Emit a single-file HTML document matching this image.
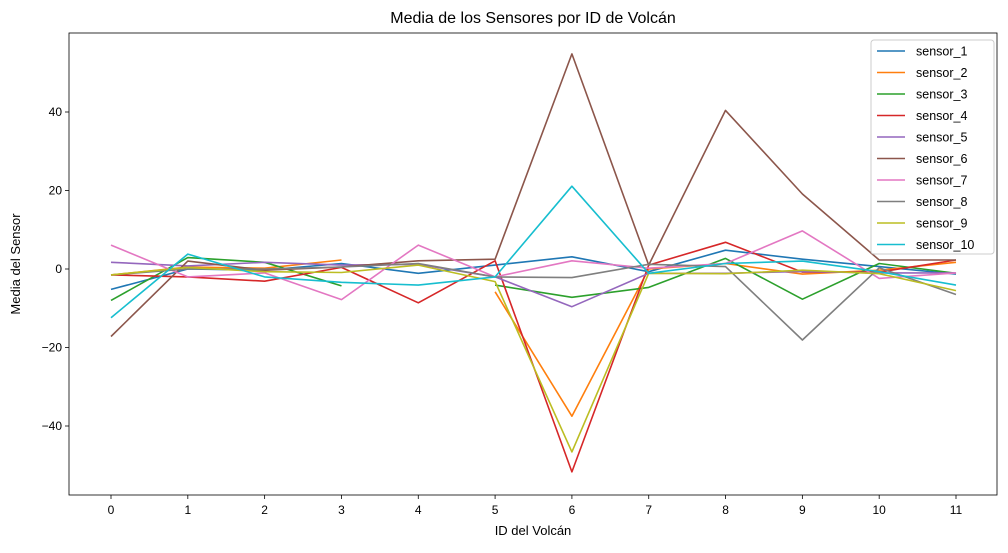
<!DOCTYPE html>
<html><head><meta charset="utf-8"><style>
body{margin:0;background:#fff;}
svg{font-family:"Liberation Sans","DejaVu Sans",sans-serif;}
</style></head><body>
<svg id="chart" width="1008" height="548" xmlns="http://www.w3.org/2000/svg"></svg>
<script>
const categories=[0,1,2,3,4,5,6,7,8,9,10,11];
const seriesNames=["sensor_1","sensor_2","sensor_3","sensor_4","sensor_5","sensor_6","sensor_7","sensor_8","sensor_9","sensor_10"];
const colors=["#1f77b4","#ff7f0e","#2ca02c","#d62728","#9467bd","#8c564b","#e377c2","#7f7f7f","#bcbd22","#17becf"];
const s1=[-5.2,0,-0.3,1.4,-1.1,1.0,3.1,-0.7,4.8,2.5,0.6,-1.3];
const s2=[-1.5,0.5,0.2,2.3,null,-5.8,-37.5,0,1.4,-1.3,-0.3,1.7];
const s3=[-8,2.9,1.7,-4.3,null,-4.1,-7.2,-4.7,2.7,-7.7,1.4,-1.1];
const s4=[-1.5,-2,-3.1,0.4,-8.6,2.1,-51.7,1,6.8,-0.8,-0.8,2.3];
const s5=[1.7,0.8,1.7,1,1.2,-2,-9.6,-1.1,-1.1,-0.6,-1,-1];
const s6=[-17.2,2,-0.3,0.5,2.1,2.5,54.8,1,40.4,19.1,2.3,2.3];
const s7=[6.1,-2,-1,-7.8,6.1,-2,2.1,0.2,1.4,9.7,-2.4,-1];
const s8=[-1.5,0,0,0.5,1.4,-2,-2.2,1.2,0.6,-18.1,0.3,-6.5];
const s9=[-1.5,0.4,-0.7,-0.9,1,-3.2,-46.6,-1.1,-1.2,-0.3,-1.2,-5.5];
const s10=[-12.4,3.8,-2,-3.4,-4.1,-2,21.1,-1.1,1.4,2,-0.7,-4.1];
const seriesValues=[s1,s2,s3,s4,s5,s6,s7,s8,s9,s10];
const yTicks=[-40,-20,0,20,40];

const L=69,R=997,T=33,B=495;
const xs=v=>111+(956-111)*v/11;
const ys=v=>269-3.925*v;
const NS="http://www.w3.org/2000/svg";
const svg=document.getElementById('chart');
function mk(t,a,p){const e=document.createElementNS(NS,t);for(const k in a)e.setAttribute(k,a[k]);(p||svg).appendChild(e);return e;}

const title=mk('text',{x:533,y:23,'text-anchor':'middle','font-size':16,fill:'#000'});
title.textContent='Media de los Sensores por ID de Volcán';



categories.forEach(c=>{
  const x=xs(c);
  const tk=mk('line',{x1:x,x2:x,y1:B,y2:B+4,stroke:'#000','stroke-width':0.8});
  
  
  const t=mk('text',{x:x,y:B+19,'text-anchor':'middle','font-size':12});
  t.textContent=c;
  
  
});
yTicks.forEach(v=>{
  const y=ys(v);
  const tk=mk('line',{x1:L-4,x2:L,y1:y,y2:y,stroke:'#000','stroke-width':0.8});
  
  
  const t=mk('text',{x:L-7,y:y+4,'text-anchor':'end','font-size':12});
  t.textContent=v<0?'\u2212'+Math.abs(v):v;
  
  
});
const xl=mk('text',{x:533,y:535,'text-anchor':'middle','font-size':13});
xl.textContent='ID del Volcán';


const yl=mk('text',{x:20,y:264,'text-anchor':'middle','font-size':13,transform:'rotate(-90 20 264)'});
yl.textContent='Media del Sensor';



seriesValues.forEach((vals,i)=>{
  let d='',pen=false;
  vals.forEach((v,j)=>{
    if(v===null){pen=false;return;}
    d+=(pen?'L':'M')+xs(categories[j]).toFixed(1)+' '+ys(v).toFixed(1)+' ';pen=true;
  });
  const p=mk('path',{d:d,fill:'none',stroke:colors[i],'stroke-width':1.6,'stroke-linejoin':'round'});
  
  
});

const frame=mk('rect',{x:L,y:T,width:R-L,height:B-T,fill:'none',stroke:'#000','stroke-width':0.8});



const lg=mk('g',{});


mk('rect',{x:871,y:40,width:123,height:214,rx:3,fill:'#fff','fill-opacity':0.8,stroke:'#ccc'},lg);
seriesNames.forEach((n,i)=>{
  const y=51+i*21.5;
  const ln=mk('line',{x1:877,x2:905,y1:y,y2:y,stroke:colors[i],'stroke-width':1.6},lg);
  
  
  const t=mk('text',{x:916,y:y+4.5,'font-size':12.5},lg);
  t.textContent=n;
  
  
});
</script>
</body></html>
